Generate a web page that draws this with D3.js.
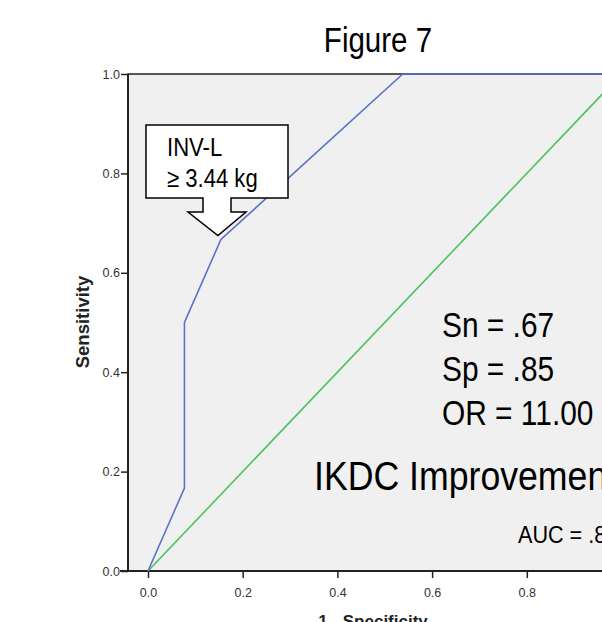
<!DOCTYPE html>
<html>
<head>
<meta charset="utf-8">
<script src="https://cdn.jsdelivr.net/npm/d3@7"></script>
<style>
	body { margin: 0; background: #fff; }
	svg { display: block; }
	.narrow { font-family: "Liberation Sans", Arial, sans-serif; }
</style>
</head>
<body>
<svg id="chart" width="602" height="622"></svg>
<script>
var ROC_FPR = [0, 0.077, 0.077, 0.154, 0.538, 1.0];
var ROC_TPR = [0, 0.167, 0.5, 0.667, 1.0, 1.0];
var REF_FPR = [0, 1];
var REF_TPR = [0, 1];
var TICKS = [0, 0.2, 0.4, 0.6, 0.8, 1.0];
var STATS = ["Sn = .67", "Sp = .85", "OR = 11.00"];
var CUTOFF = ["INV-L", "\u2265 3.44 kg"];
var CUTOFF_AT = [0.154, 0.667];

var svg = d3.select("#chart");

var x = d3.scaleLinear().domain([0, 1]).range([148, 621.5]);
var y = d3.scaleLinear().domain([0, 1]).range([571, 74]);

// no narrow font installed, so squeeze the normal one
function narrowText(parent, tx, ty, size, str, anchor, sx) {
	return parent.append("text")
		.attr("class", "narrow")
		.attr("transform", "translate(" + tx + "," + ty + ") scale(" + (sx || 0.82) + ",1)")
		.attr("text-anchor", anchor || "start")
		.attr("font-size", size)
		.attr("fill", "#000")
		.text(str);
}

// plot background
svg.append("rect")
	.attr("x", x(0) - 20)
	.attr("y", y(1))
	.attr("width", x(1) + 20 - (x(0) - 20))
	.attr("height", y(0) - y(1))
	.attr("fill", "#f0f0f0")
	.attr("stroke", "#222")
	.attr("stroke-width", 1.5);

// axes
var xAxis = d3.axisBottom(x).tickValues(TICKS).tickSize(7).tickFormat(d3.format(".1f"));
var yAxis = d3.axisLeft(y).tickValues(TICKS).tickSize(7).tickFormat(d3.format(".1f"));

var gx = svg.append("g").attr("transform", "translate(0," + y(0) + ")").call(xAxis);
var gy = svg.append("g").attr("transform", "translate(" + (x(0) - 20) + ",0)").call(yAxis);

[gx, gy].forEach(function(g) {
	g.select(".domain").remove();
	g.selectAll(".tick line").attr("stroke", "#222").attr("stroke-width", 1.5);
	g.selectAll(".tick text")
		.attr("fill", "#333")
		.attr("font-family", "Liberation Sans, Arial, sans-serif")
		.attr("font-size", 12.5);
});
gx.selectAll(".tick text").attr("dy", "1.25em");
gy.selectAll(".tick text").attr("x", -8);

// bottom / left axis lines
svg.append("line")
	.attr("x1", x(0) - 28).attr("x2", x(1) + 20)
	.attr("y1", y(0)).attr("y2", y(0))
	.attr("stroke", "#222").attr("stroke-width", 2);
svg.append("line")
	.attr("x1", x(0) - 20).attr("x2", x(0) - 20)
	.attr("y1", y(1)).attr("y2", y(0))
	.attr("stroke", "#222").attr("stroke-width", 2);

var line = d3.line()
	.x(function(d) { return x(d[0]); })
	.y(function(d) { return y(d[1]); });

// reference diagonal
svg.append("path")
	.datum(d3.zip(REF_FPR, REF_TPR))
	.attr("d", line)
	.attr("fill", "none")
	.attr("stroke", "#4cc35c")
	.attr("stroke-width", 1.6);

// roc curve
svg.append("path")
	.datum(d3.zip(ROC_FPR, ROC_TPR))
	.attr("d", line)
	.attr("fill", "none")
	.attr("stroke", "#5a72c8")
	.attr("stroke-width", 1.6);

// axis titles
svg.append("text")
	.attr("transform", "translate(89,322) rotate(-90)")
	.attr("text-anchor", "middle")
	.attr("font-family", "Liberation Sans, Arial, sans-serif")
	.attr("font-weight", "bold")
	.attr("font-size", 18.5)
	.attr("fill", "#222")
	.text("Sensitivity");

svg.append("text")
	.attr("x", 373)
	.attr("y", 627)
	.attr("text-anchor", "middle")
	.attr("font-family", "Liberation Sans, Arial, sans-serif")
	.attr("font-weight", "bold")
	.attr("font-size", 17)
	.attr("fill", "#222")
	.text("1 - Specificity");

// title
narrowText(svg, 378, 52, 36, "Figure 7", "middle");

// stats text
STATS.forEach(function(s, i) {
	narrowText(svg, 442, 337 + i * 44, 36, s, "start", 0.83);
});

narrowText(svg, 314, 490, 41, "IKDC Improvement", "start", 0.87);
narrowText(svg, 518, 543, 24, "AUC = .82", "start", 0.9);

// cutoff callout
var tipX = x(CUTOFF_AT[0]) - 3,
	tipY = y(CUTOFF_AT[1]) - 4;
var call = svg.append("g");
call.append("path")
	.attr("d", "M146,125 H288 V198 H231 V212 H246 L" + tipX + "," + tipY + " L188,212 H203 V198 H146 Z")
	.attr("fill", "#fff")
	.attr("stroke", "#000")
	.attr("stroke-width", 1.5);
CUTOFF.forEach(function(s, i) {
	narrowText(call, 167, 156 + i * 31, 26, s, "start", 0.85);
});
</script>
</body>
</html>
